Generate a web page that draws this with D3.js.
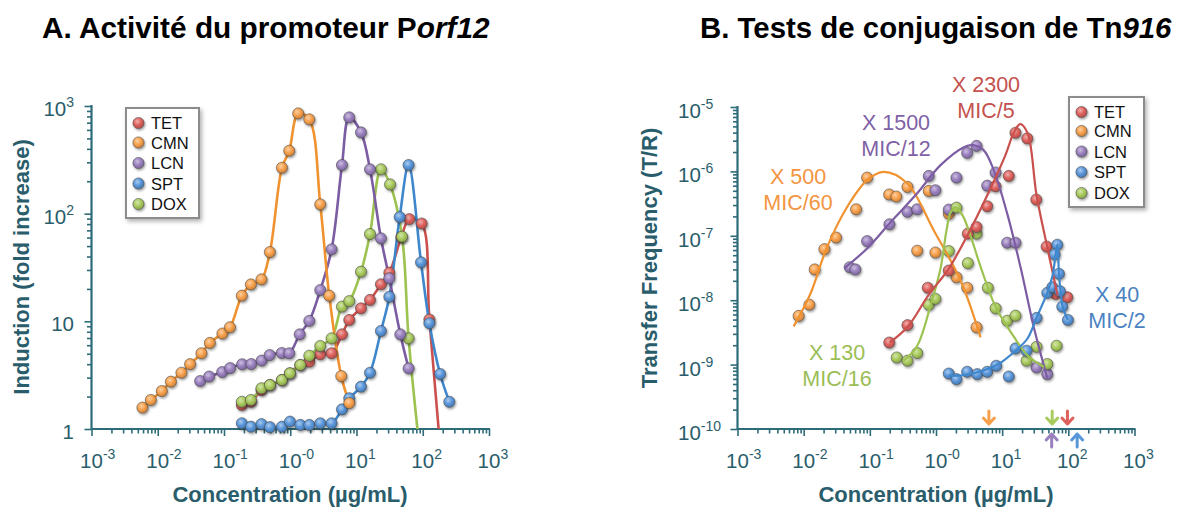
<!DOCTYPE html>
<html><head><meta charset="utf-8">
<script src="https://cdn.jsdelivr.net/npm/d3@7"></script>
<style>
body{margin:0;background:#fff}
svg{display:block}
text{font-family:"Liberation Sans",Arial,Helvetica,sans-serif}
</style>
</head><body>
<svg id="c" width="1183" height="509"></svg>
<script>
// ---------------- DATA ----------------
const seriesNames = ["TET","CMN","LCN","SPT","DOX"];

// Panel A : promoter activity (concentration µg/mL, fold induction)
const A_TET_x = [0.186,0.255,0.368,0.493,0.75,0.99,1.42,1.94,2.84,4.21,6.04,7.78,11.7,16.0,23.4,31.3,47.5,62.8,96.4,126,191];
const A_TET_y = [1.67,1.79,2.30,2.56,2.85,3.29,3.93,4.22,4.94,5.05,7.57,10.3,13.2,15.8,22.1,28.3,60.6,89,81,10.4,0.5];
const A_CMN_x = [0.00588,0.00787,0.01153,0.0158,0.0228,0.0308,0.0457,0.0612,0.0948,0.123,0.186,0.255,0.368,0.493,0.75,0.966,1.32,1.94,2.84,3.88,5.89,7.78];
const A_CMN_y = [1.58,1.86,2.25,2.75,3.33,4.0,5.05,6.3,7.7,8.8,17.3,22,24.5,44,267,384,853,751,122,17.3,3.1,1.74];
const A_LCN_x = [0.0437,0.0597,0.094,0.124,0.188,0.258,0.371,0.49,0.745,0.966,1.39,1.94,2.84,4.21,6.04,7.78,11.7,16.0,23.4,31.3,45.9,61.2];
const A_LCN_y = [2.79,3.07,3.38,3.68,3.99,4.01,4.32,4.86,5.08,5.05,7.57,10.1,19.5,46.6,283,784,569,258,59,25.1,7.57,3.66];
const A_SPT_x = [0.186,0.255,0.368,0.493,0.75,0.99,1.42,1.94,2.84,4.21,6.04,7.78,11.7,16.0,23.4,31.3,44.9,61.2,94.2,126,183,252];
const A_SPT_y = [1.13,1.05,1.11,1.04,1.05,1.17,1.09,1.09,1.13,1.13,1.52,1.93,2.47,3.33,8.13,16.9,93,283,35.3,9.6,3.24,1.79];
const A_DOX_x = [0.186,0.255,0.368,0.493,0.75,0.99,1.42,1.94,2.84,4.21,6.04,7.78,11.7,16.0,23.4,32.1,48.7,61.2,92];
const A_DOX_y = [1.79,1.86,2.39,2.56,2.85,3.29,3.93,4.79,5.9,6.95,13.7,15.4,28.9,64.7,258,187,61.1,6.95,0.56];

// Panel B : conjugation tests (concentration µg/mL, transfer frequency T/R)
const B_TET_x = [0.197,0.371,0.751,1.56,3.03,4.1,5.95,7.95,12.6,15.9,24.0,32.8,47.0,64.3,96.6];
const B_TET_y = [2.2e-9,4.1e-9,1.56e-8,2.89e-8,1.08e-7,1.37e-7,2.87e-7,5.87e-7,8.5e-7,3.98e-6,3.25e-6,3.65e-7,6.8e-8,1.25e-8,1.11e-8];
const B_CMN_x = [0.0084,0.0122,0.0147,0.0206,0.0309,0.062,0.091,0.196,0.252,0.371,0.52,0.778,0.98,1.56,2.04,2.96,4.1];
const B_CMN_y = [5.7e-9,8.5e-9,3.0e-8,6.2e-8,9.4e-8,2.58e-7,8.0e-7,4.38e-7,4.06e-7,5.74e-7,5.86e-8,4.97e-7,5.5e-8,2.2e-7,2.27e-8,1.56e-8,3.8e-9];
const B_LCN_x = [0.0497,0.0605,0.091,0.198,0.371,0.52,0.778,0.98,1.56,2.04,2.96,4.1,5.95,7.95,11.9,15.9,33.1,48.1];
const B_LCN_y = [3.25e-8,3.0e-8,8.26e-8,1.51e-7,2.36e-7,2.58e-7,8.5e-7,5.1e-7,2.55e-7,8.0e-7,1.94e-6,2.49e-6,6.0e-7,9.6e-7,7.8e-8,7.8e-8,9.0e-10,7.1e-10];
const B_SPT_x = [1.56,2.04,2.96,4.2,5.95,8.14,12.6,15.9,23.4,33.1,48.1,57.3,68.2,62.1,72.1,74.6,81.1,98.6];
const B_SPT_y = [7.26e-10,5.94e-10,7.73e-10,7.1e-10,7.73e-10,9.58e-10,6.53e-10,1.78e-9,1.64e-9,5.3e-9,1.3e-8,1.59e-8,7.26e-8,5.13e-8,2.57e-8,1.38e-8,7.94e-9,4.93e-9];
const B_DOX_x = [0.255,0.371,0.52,0.778,0.98,1.56,2.04,3.03,4.1,6.08,7.95,11.9,15.9,23.4,33.1,48.1,66.5];
const B_DOX_y = [1.29e-9,1.15e-9,1.51e-9,8.5e-9,1.05e-8,5.8e-8,2.74e-7,3.76e-8,1.08e-7,1.56e-8,7.5e-9,4.8e-9,5.75e-9,1.15e-9,1.89e-9,1.02e-9,1.96e-9];

// Panel B fitted curves
const FIT_TET_x = [0.2,0.374,0.762,1.56,3.03,5.96,11.2,14.9,18.7,24.2,33.1,48.1,68.9];
const FIT_TET_y = [2.21e-9,3.88e-9,1.18e-8,3.10e-8,1.05e-7,4.26e-7,1.79e-6,3.94e-6,5.43e-6,3.94e-6,4.26e-7,6.6e-8,1.18e-8];
const FIT_CMN_x = [0.00706,0.0126,0.0226,0.0454,0.091,0.162,0.366,0.927,2.35,4.71];
const FIT_CMN_y = [3.92e-9,1.25e-8,6.68e-8,2.80e-7,7.30e-7,9.82e-7,6.55e-7,1.21e-7,2.02e-8,2.64e-9];
const FIT_LCN_x = [0.0413,0.091,0.205,0.52,1.17,2.64,3.56,5.24,7.48,11.9,19.0,30.2,48.1];
const FIT_LCN_y = [3.14e-8,6.37e-8,1.62e-7,4.57e-7,1.25e-6,2.38e-6,2.56e-6,2.14e-6,1.04e-6,2.23e-7,3.22e-8,3.74e-9,6.22e-10];
const FIT_SPT_x = [1.55,2.79,5.61,9.46,15.9,24.0,33.1,48.1,57.8,68.2,72.1,76.4,82.0,98.6];
const FIT_SPT_y = [6.7e-10,6.9e-10,8.3e-10,1.07e-9,1.64e-9,2.52e-9,5.36e-9,1.31e-8,2.41e-8,7.35e-8,2.59e-8,1.36e-8,7.94e-9,4.93e-9];
const FIT_DOX_x = [0.326,0.52,0.826,1.17,1.44,1.66,1.97,2.52,3.32,4.71,7.95,15.0,24.0,42.8];
const FIT_DOX_y = [1.15e-9,1.96e-9,8.2e-9,3.1e-8,1.21e-7,2.31e-7,2.77e-7,2.08e-7,1.01e-7,3.33e-8,7.9e-9,2.71e-9,1.4e-9,9.2e-10];

// MIC arrows (µg/mL)
const micDown = [["CMN",6.3],["DOX",57],["TET",97]];
const micUp = [["LCN",56],["SPT",136]];

// annotations: series, line 1, line 2
const annotations = [["CMN","X 500","MIC/60"],["LCN","X 1500","MIC/12"],["TET","X 2300","MIC/5"],["DOX","X 130","MIC/16"],["SPT","X 40","MIC/2"]];

// tick labels
const xTickValues = [1e-3,1e-2,1e-1,1e0,1e1,1e2,1e3];
const xTickLabels = [["10","-3"],["10","-2"],["10","-1"],["10","-0"],["10","1"],["10","2"],["10","3"]];
const aYTickValues = [1,10,100,1000];
const aYTickLabels = [["1",""],["10",""],["10","2"],["10","3"]];
const bYTickValues = [1e-10,1e-9,1e-8,1e-7,1e-6,1e-5];
const bYTickLabels = [["10","-10"],["10","-9"],["10","-8"],["10","-7"],["10","-6"],["10","-5"]];

// ---------------- STYLE ----------------
const markerColor = {TET:"#de615d",CMN:"#f7a04b",LCN:"#9a80bf",SPT:"#5996da",DOX:"#a9cb5d"};
const lineColor   = {TET:"#c9504c",CMN:"#f0922f",LCN:"#7c5ca3",SPT:"#3f87cd",DOX:"#9cc24f"};
const annColor    = {TET:"#c4514e",CMN:"#f39541",LCN:"#7f61a5",SPT:"#4a82c2",DOX:"#9bbd55"};
const annPos = {CMN:[798,184],LCN:[896,130],TET:[986,92],DOX:[837,360],SPT:[1117,302]};
const axisColor = "#2e6b79", textColor = "#2a5d6b";

const svg = d3.select("#c");
svg.append("rect").attr("width",1183).attr("height",509).attr("fill","#fff");
const defs = svg.append("defs");
seriesNames.forEach(k=>{
  const c = markerColor[k];
  const gr = defs.append("radialGradient").attr("id","g"+k).attr("cx","40%").attr("cy","36%").attr("r","62%");
  gr.append("stop").attr("offset","0%").attr("stop-color", d3.interpolateRgb(c,"#fff")(0.5));
  gr.append("stop").attr("offset","55%").attr("stop-color", c);
  gr.append("stop").attr("offset","100%").attr("stop-color", d3.interpolateRgb(c,"#000")(0.18));
});
const fl = defs.append("filter").attr("id","sh").attr("x","-60%").attr("y","-60%").attr("width","220%").attr("height","220%");
fl.append("feDropShadow").attr("dx",1).attr("dy",1.6).attr("stdDeviation",1.3).attr("flood-color","#000").attr("flood-opacity",0.38);
const fl2 = defs.append("filter").attr("id","sh2").attr("x","-20%").attr("y","-20%").attr("width","140%").attr("height","140%");
fl2.append("feDropShadow").attr("dx",2).attr("dy",2.5).attr("stdDeviation",2).attr("flood-color","#000").attr("flood-opacity",0.3);

function minorTicks(dom){
  const out=[]; const lo=Math.round(Math.log10(dom[0])), hi=Math.round(Math.log10(dom[1]));
  for(let d=lo; d<hi; d++) for(let k=2;k<=9;k++) out.push(k*Math.pow(10,d));
  return out;
}

function supLabel(g, x, y, pair, anchor, fs, sfs, sdy){
  const t = g.append("text").attr("y",y).attr("fill",textColor).attr("font-size",fs);
  t.append("tspan").text(pair[0]);
  const w = t.node().getComputedTextLength();
  if(pair[1]) t.append("tspan").attr("dy",sdy).attr("font-size",sfs).text(pair[1]);
  const wt = t.node().getComputedTextLength();
  if(anchor==="center") t.attr("x", x - w/2);
  else if(anchor==="end") t.attr("x", x - wt);
  else t.attr("x", x);
  return t;
}

function drawAxes(x, y, yVals, yLabs, yLabAnchor, yLabX, yLabDy){
  const g = svg.append("g");
  const [x0,x1] = x.range(), [y0,y1] = y.range();
  const gx = g.append("g").attr("transform",`translate(0,${y0})`);
  gx.call(d3.axisBottom(x).tickValues(minorTicks(x.domain())).tickSize(4.5).tickFormat(""));
  gx.select(".domain").remove();
  const gx2 = g.append("g").attr("transform",`translate(0,${y0})`);
  gx2.call(d3.axisBottom(x).tickValues(xTickValues).tickSize(7).tickFormat(""));
  gx2.select(".domain").remove();
  const gy = g.append("g").attr("transform",`translate(${x0},0)`);
  gy.call(d3.axisLeft(y).tickValues(minorTicks(y.domain())).tickSize(4.5).tickFormat(""));
  gy.select(".domain").remove();
  const gy2 = g.append("g").attr("transform",`translate(${x0},0)`);
  gy2.call(d3.axisLeft(y).tickValues(yVals).tickSize(7).tickFormat(""));
  gy2.select(".domain").remove();
  g.selectAll(".tick line").attr("stroke",axisColor).attr("stroke-width",1.6);
  g.append("line").attr("x1",x0).attr("x2",x1+1).attr("y1",y0).attr("y2",y0).attr("stroke",axisColor).attr("stroke-width",2.2);
  g.append("line").attr("x1",x0).attr("x2",x0).attr("y1",y0).attr("y2",y1-1).attr("stroke",axisColor).attr("stroke-width",2.2);
  xTickValues.forEach((v,i)=> supLabel(g, x(v), 468, xTickLabels[i], "center", 20.5, 14, -9));
  yVals.forEach((v,i)=> supLabel(g, yLabX, y(v)+yLabDy, yLabs[i], yLabAnchor, 20.5, 14, -9));
  return g;
}

function marker(g, k, cx, cy){
  g.append("circle").attr("cx",cx).attr("cy",cy).attr("r",5.6)
   .attr("fill",`url(#g${k})`).attr("stroke","rgba(70,70,70,0.55)").attr("stroke-width",1)
   .attr("filter","url(#sh)");
}

function legend(x0,y0,w,h,rowY){
  const g = svg.append("g");
  g.append("rect").attr("x",x0).attr("y",y0).attr("width",w).attr("height",h)
   .attr("fill","#fff").attr("stroke","#8c8c8c").attr("stroke-width",2).attr("filter","url(#sh2)");
  seriesNames.forEach((k,i)=>{
    const cy = y0 + rowY[i];
    marker(g,k,x0+12.5,cy);
    g.append("text").attr("x",x0+25).attr("y",cy+6).attr("font-size",16.5).attr("fill","#111").text(k);
  });
}

// ---------------- PANEL A ----------------
const xA = d3.scaleLog().domain([1e-3,1e3]).range([91.5,489]);
const yA = d3.scaleLog().domain([1,1000]).range([429,106]);
drawAxes(xA, yA, aYTickValues, aYTickLabels, "end", 74, 10);

defs.append("clipPath").attr("id","clipA").append("rect").attr("x",80).attr("y",60).attr("width",430).attr("height",429-60);
const A = {TET:[A_TET_x,A_TET_y],CMN:[A_CMN_x,A_CMN_y],LCN:[A_LCN_x,A_LCN_y],SPT:[A_SPT_x,A_SPT_y],DOX:[A_DOX_x,A_DOX_y]};
const lineA = d3.line().x(d=>xA(d[0])).y(d=>yA(d[1])).curve(d3.curveCatmullRom.alpha(0.5));
const gA = svg.append("g");
const drawOrderA = ["TET","DOX","SPT","LCN","CMN"];
drawOrderA.forEach(k=>{
  const pts = A[k][0].map((v,i)=>[v,A[k][1][i]]);
  gA.append("path").attr("d",lineA(pts)).attr("fill","none").attr("stroke",lineColor[k])
    .attr("stroke-width",2.6).attr("clip-path","url(#clipA)");
});
drawOrderA.forEach(k=>{
  A[k][0].forEach((v,i)=>{ const yv=A[k][1][i]; if(yv>=1) marker(gA,k,xA(v),yA(yv)); });
});
legend(126,108,73,110,[15,34.5,55,75.5,96]);

const tA = svg.append("text").attr("x",42).attr("y",38).attr("font-size",29.8).attr("font-weight","bold").attr("fill","#000");
tA.append("tspan").text("A. Activité du promoteur P");
tA.append("tspan").attr("font-style","italic").text("orf12");
svg.append("text").attr("x",290).attr("y",502).attr("text-anchor","middle").attr("font-size",22).attr("font-weight","bold").attr("fill",textColor).text("Concentration (µg/mL)");
svg.append("text").attr("transform","translate(29,267) rotate(-90)").attr("text-anchor","middle").attr("font-size",22).attr("font-weight","bold").attr("fill",textColor).text("Induction (fold increase)");

// ---------------- PANEL B ----------------
const xB = d3.scaleLog().domain([1e-3,1e3]).range([737.5,1134.5]);
const yB = d3.scaleLog().domain([1e-10,1e-5]).range([429,107]);
drawAxes(xB, yB, bYTickValues, bYTickLabels, "start", 678, 11);

const B = {TET:[B_TET_x,B_TET_y],CMN:[B_CMN_x,B_CMN_y],LCN:[B_LCN_x,B_LCN_y],SPT:[B_SPT_x,B_SPT_y],DOX:[B_DOX_x,B_DOX_y]};
const FIT = {TET:[FIT_TET_x,FIT_TET_y],CMN:[FIT_CMN_x,FIT_CMN_y],LCN:[FIT_LCN_x,FIT_LCN_y],SPT:[FIT_SPT_x,FIT_SPT_y],DOX:[FIT_DOX_x,FIT_DOX_y]};
const lineB = d3.line().x(d=>xB(d[0])).y(d=>yB(d[1])).curve(d3.curveCatmullRom.alpha(0.5));
const gB = svg.append("g");
const drawOrderB = ["CMN","LCN","DOX","TET","SPT"];
drawOrderB.forEach(k=>{
  B[k][0].forEach((v,i)=> marker(gB,k,xB(v),yB(B[k][1][i])));
});
drawOrderB.forEach(k=>{
  const pts = FIT[k][0].map((v,i)=>[v,FIT[k][1][i]]);
  gB.append("path").attr("d",lineB(pts)).attr("fill","none").attr("stroke",lineColor[k]).attr("stroke-width",2.2);
});
legend(1069,97,75,110,[15,34,54.5,75,96]);

annotations.forEach(([k,l1,l2])=>{
  const [ax,ay] = annPos[k];
  svg.append("text").attr("x",ax).attr("y",ay).attr("text-anchor","middle").attr("font-size",21.5).attr("fill",annColor[k]).text(l1);
  svg.append("text").attr("x",ax).attr("y",ay+25.5).attr("text-anchor","middle").attr("font-size",21.5).attr("fill",annColor[k]).text(l2);
});

function arrow(xp, yTip, dir, col){
  const L = 13, hw = 5.5, hh = 6;
  const yTail = yTip - dir*L;
  svg.append("path").attr("d",`M${xp},${yTail} L${xp},${yTip} M${xp-hw},${yTip-dir*hh} L${xp},${yTip} L${xp+hw},${yTip-dir*hh}`)
    .attr("fill","none").attr("stroke",col).attr("stroke-width",3).attr("stroke-linecap","round").attr("stroke-linejoin","round");
}
micDown.forEach(([k,v])=> arrow(xB(v), 424, 1, markerColor[k]));
micUp.forEach(([k,v])=> arrow(xB(v), 434, -1, markerColor[k]));

const tB = svg.append("text").attr("x",700).attr("y",38).attr("font-size",29.4).attr("font-weight","bold").attr("fill","#000");
tB.append("tspan").text("B. Tests de conjugaison de Tn");
tB.append("tspan").attr("font-style","italic").text("916");
svg.append("text").attr("x",936).attr("y",502).attr("text-anchor","middle").attr("font-size",22).attr("font-weight","bold").attr("fill",textColor).text("Concentration (µg/mL)");
svg.append("text").attr("transform","translate(657,258) rotate(-90)").attr("text-anchor","middle").attr("font-size",22).attr("font-weight","bold").attr("fill",textColor).text("Transfer Frequency (T/R)");
</script>
</body></html>
